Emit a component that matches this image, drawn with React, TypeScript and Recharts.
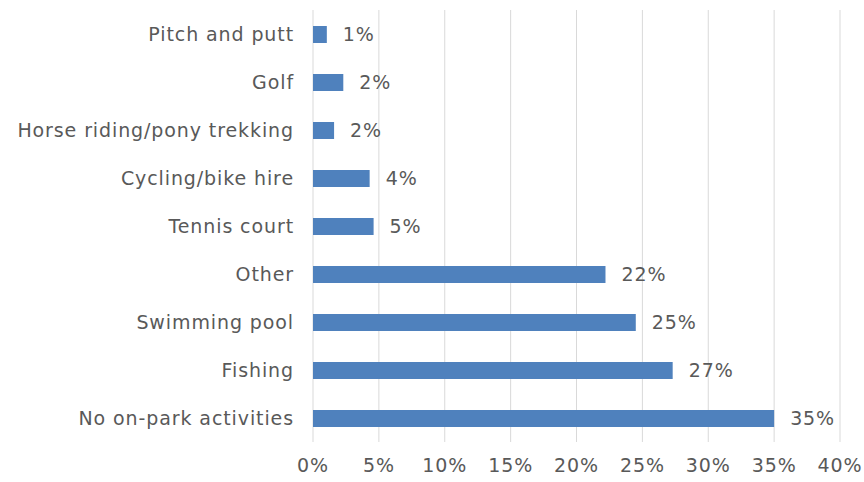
import { BarChart, Bar, XAxis, YAxis, CartesianGrid, LabelList } from 'recharts'

const activities = [
  'Pitch and putt',
  'Golf',
  'Horse riding/pony trekking',
  'Cycling/bike hire',
  'Tennis court',
  'Other',
  'Swimming pool',
  'Fishing',
  'No on-park activities',
]
const shares = [1.05, 2.3, 1.6, 4.3, 4.6, 22.2, 24.5, 27.3, 35.0]
const xTicks = [0, 5, 10, 15, 20, 25, 30, 35, 40]

const data = activities.map((name, i) => ({ name, value: shares[i] }))

const font = '"DejaVu Sans", sans-serif'
const grey = '#595959'
const textStyle = { fill: grey, fontSize: 19, fontFamily: font, letterSpacing: 0.9 }

export default function App() {
  return (
    <div style={{ position: 'absolute', left: 0, top: 0, fontFamily: font }}>
      <BarChart
        width={864}
        height={482}
        data={data}
        layout="vertical"
        margin={{ top: 10, right: 24, bottom: 0, left: 0 }}
      >
        <CartesianGrid horizontal={false} stroke="#d9d9d9" />
        <XAxis
          type="number"
          domain={[0, 40]}
          ticks={xTicks}
          tickFormatter={(v) => `${v}%`}
          axisLine={false}
          tickLine={false}
          tickSize={0}
          tickMargin={17}
          height={40}
          tick={textStyle}
        />
        <YAxis
          type="category"
          dataKey="name"
          width={313}
          axisLine={false}
          tickLine={false}
          tickSize={0}
          tickMargin={19}
          interval={0}
          tick={textStyle}
        />
        <Bar dataKey="value" fill="#4f81bd" barSize={17} isAnimationActive={false}>
          <LabelList
            dataKey="value"
            position="right"
            offset={16}
            formatter={(v: number) => `${Math.round(v)}%`}
            style={textStyle}
          />
        </Bar>
      </BarChart>
    </div>
  )
}
